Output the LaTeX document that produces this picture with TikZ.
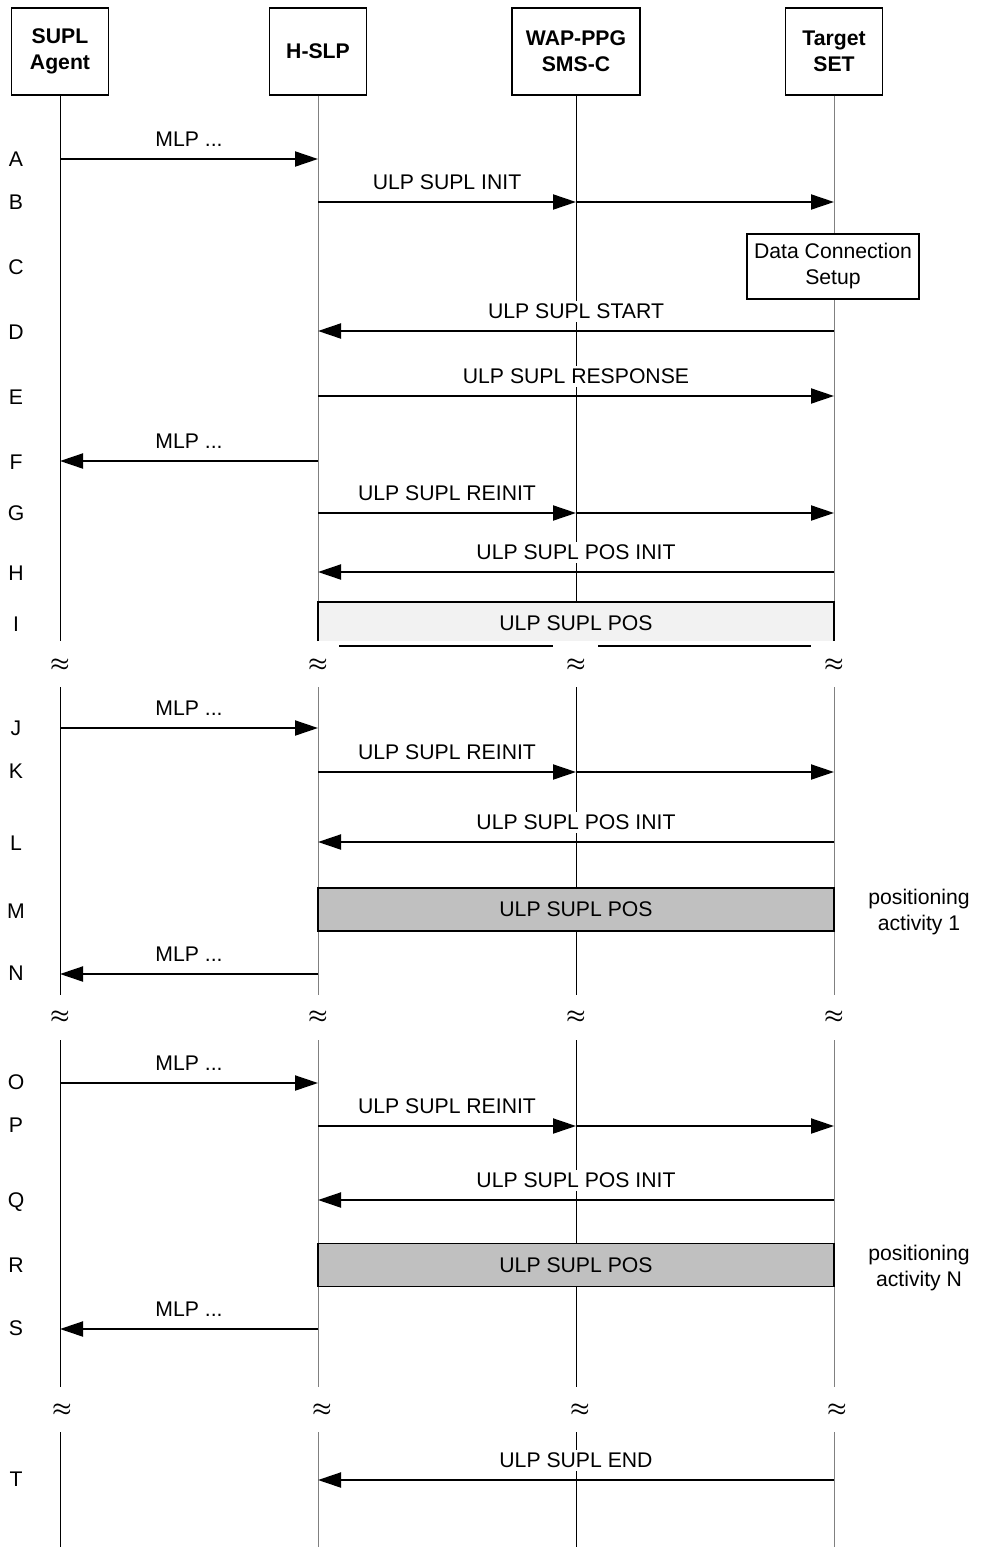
\documentclass[tikz,border=0pt]{standalone}
\usepackage{fontspec}
\setmainfont{Liberation Sans}
\usetikzlibrary{arrows.meta}
\definecolor{posgray}{HTML}{C0C0C0}
\definecolor{posfaint}{HTML}{F2F2F2}

\begin{document}
\begin{tikzpicture}[x=0.5pt,y=-0.5pt,
    font=\fontsize{10.6}{13}\selectfont,
    head/.style={draw,line width=0.6pt,minimum width=48.5pt,minimum height=43.5pt,
        align=center,font=\fontsize{10.6}{13}\selectfont\bfseries},
    life/.style={line width=0.5pt,gray},
    msg/.style={line width=1pt,-{Triangle[length=11.5pt,width=7.5pt]}},
    lbl/.style={midway,above=4.2pt,fill=white,inner sep=1.5pt},
    posbox/.style={draw,line width=0.8pt,fill=posgray,minimum width=258pt,minimum height=21.5pt},
    brk/.style={font=\fontsize{11}{12}\selectfont\boldmath}]
    \useasboundingbox (0,0) rectangle (982,1547);
    % Draw the entity boxes
    \node[head] (agent) at (60,51.5) {SUPL\\Agent};
    \node[head] (hslp) at (318,51.5) {H-SLP};
    \node[head,minimum width=64pt] (ppg) at (576,51.5) {WAP-PPG\\SMS-C};
    \node[head] (set) at (834,51.5) {Target\\SET};

    % Where the lifelines are broken
    \coordinate (cut_1) at (0,641);
    \coordinate (gap_1) at (0,687);
    \coordinate (cut_2) at (0,995);
    \coordinate (gap_2) at (0,1040);
    \coordinate (cut_3) at (0,1387);
    \coordinate (gap_3) at (0,1432);
    \coordinate (end) at (0,1547);

    % Draw lifelines
    \draw[life,black] (agent.south) -- (agent |- cut_1) (agent |- gap_1) -- (agent |- cut_2)
        (agent |- gap_2) -- (agent |- cut_3) (agent |- gap_3) -- (agent |- end);
    \draw[life] (hslp.south) -- (hslp |- cut_1) (hslp |- gap_1) -- (hslp |- cut_2)
        (hslp |- gap_2) -- (hslp |- cut_3) (hslp |- gap_3) -- (hslp |- end);
    \draw[life,black] (ppg.south) -- (ppg |- cut_1) (ppg |- gap_1) -- (ppg |- cut_2)
        (ppg |- gap_2) -- (ppg |- cut_3) (ppg |- gap_3) -- (ppg |- end);
    \draw[life] (set.south) -- (set |- cut_1) (set |- gap_1) -- (set |- cut_2)
        (set |- gap_2) -- (set |- cut_3) (set |- gap_3) -- (set |- end);

    % Break marks
    \node[brk] (br_a1) at (60,665) {$\approx$};
    \node[brk] (br_b1) at (318,665) {$\approx$};
    \node[brk] (br_c1) at (576,665) {$\approx$};
    \node[brk] (br_d1) at (834,665) {$\approx$};
    \node[brk] (br_a2) at (60,1017) {$\approx$};
    \node[brk] (br_b2) at (318,1017) {$\approx$};
    \node[brk] (br_c2) at (576,1017) {$\approx$};
    \node[brk] (br_d2) at (834,1017) {$\approx$};
    \node[brk] (br_a3) at (62,1410) {$\approx$};
    \node[brk] (br_b3) at (322,1410) {$\approx$};
    \node[brk] (br_c3) at (580,1410) {$\approx$};
    \node[brk] (br_d3) at (837,1410) {$\approx$};

    % Rows of the message flow
    \coordinate (r_A) at (0,159);
    \coordinate (r_B) at (0,202);
    \coordinate (r_D) at (0,331);
    \coordinate (r_E) at (0,396);
    \coordinate (r_F) at (0,461);
    \coordinate (r_G) at (0,513);
    \coordinate (r_H) at (0,572);
    \coordinate (r_J) at (0,728);
    \coordinate (r_K) at (0,772);
    \coordinate (r_L) at (0,842);
    \coordinate (r_N) at (0,974);
    \coordinate (r_O) at (0,1083);
    \coordinate (r_P) at (0,1126);
    \coordinate (r_Q) at (0,1200);
    \coordinate (r_S) at (0,1329);
    \coordinate (r_T) at (0,1480);

    % Step letters
    \node (l_A) at (16,159) {A};
    \node (l_B) at (16,202) {B};
    \node (l_C) at (16,267) {C};
    \node (l_D) at (16,332) {D};
    \node (l_E) at (16,397) {E};
    \node (l_F) at (16,462) {F};
    \node (l_G) at (16,513) {G};
    \node (l_H) at (16,573) {H};
    \node (l_I) at (16,624) {I};
    \node (l_J) at (16,728) {J};
    \node (l_K) at (16,771) {K};
    \node (l_L) at (16,843) {L};
    \node (l_M) at (16,911) {M};
    \node (l_N) at (16,973) {N};
    \node (l_O) at (16,1082) {O};
    \node (l_P) at (16,1125) {P};
    \node (l_Q) at (16,1202) {Q};
    \node (l_R) at (16,1265) {R};
    \node (l_S) at (16,1328) {S};
    \node (l_T) at (16,1479) {T};

    % Messages
    \draw[msg] (agent |- r_A) -- (hslp |- r_A) node[lbl] {MLP ...};
    \draw[msg] (hslp |- r_B) -- (ppg |- r_B) node[lbl] {ULP SUPL INIT};
    \draw[msg] (ppg |- r_B) -- (set |- r_B);
    \node[draw,line width=0.6pt,fill=white,align=center,minimum width=86pt,minimum height=32.5pt]
        (dcs) at (833,266.5) {Data Connection\\Setup};
    \draw[msg] (set |- r_D) -- (hslp |- r_D) node[lbl] {ULP SUPL START};
    \draw[msg] (hslp |- r_E) -- (set |- r_E) node[lbl] {ULP SUPL RESPONSE};
    \draw[msg] (hslp |- r_F) -- (agent |- r_F) node[lbl] {MLP ...};
    \draw[msg] (hslp |- r_G) -- (ppg |- r_G) node[lbl] {ULP SUPL REINIT};
    \draw[msg] (ppg |- r_G) -- (set |- r_G);
    \draw[msg] (set |- r_H) -- (hslp |- r_H) node[lbl] {ULP SUPL POS INIT};

    % Cut-off positioning box
    \coordinate (top_I) at (0,602);
    \fill[posfaint] (hslp |- top_I) rectangle (set |- cut_1);
    \draw[line width=0.8pt] (hslp |- cut_1) -- (hslp |- top_I) -- (set |- top_I) -- (set |- cut_1);
    \node (pos_I) at (576,623) {ULP SUPL POS};
    \draw[line width=0.8pt] (339,646) -- (553,646);
    \draw[line width=0.8pt] (598,646) -- (811,646);

    \draw[msg] (agent |- r_J) -- (hslp |- r_J) node[lbl] {MLP ...};
    \draw[msg] (hslp |- r_K) -- (ppg |- r_K) node[lbl] {ULP SUPL REINIT};
    \draw[msg] (ppg |- r_K) -- (set |- r_K);
    \draw[msg] (set |- r_L) -- (hslp |- r_L) node[lbl] {ULP SUPL POS INIT};
    \node[posbox] (pos_M) at (576,909.5) {ULP SUPL POS};
    \node[align=center] (act_1) at (919,912) {positioning\\activity 1};
    \draw[msg] (hslp |- r_N) -- (agent |- r_N) node[lbl] {MLP ...};

    \draw[msg] (agent |- r_O) -- (hslp |- r_O) node[lbl] {MLP ...};
    \draw[msg] (hslp |- r_P) -- (ppg |- r_P) node[lbl] {ULP SUPL REINIT};
    \draw[msg] (ppg |- r_P) -- (set |- r_P);
    \draw[msg] (set |- r_Q) -- (hslp |- r_Q) node[lbl] {ULP SUPL POS INIT};
    \node[posbox] (pos_R) at (576,1265) {ULP SUPL POS};
    \node[align=center] (act_N) at (919,1268) {positioning\\activity N};
    \draw[msg] (hslp |- r_S) -- (agent |- r_S) node[lbl] {MLP ...};

    \draw[msg] (set |- r_T) -- (hslp |- r_T) node[lbl] {ULP SUPL END};
\end{tikzpicture}
\end{document}
